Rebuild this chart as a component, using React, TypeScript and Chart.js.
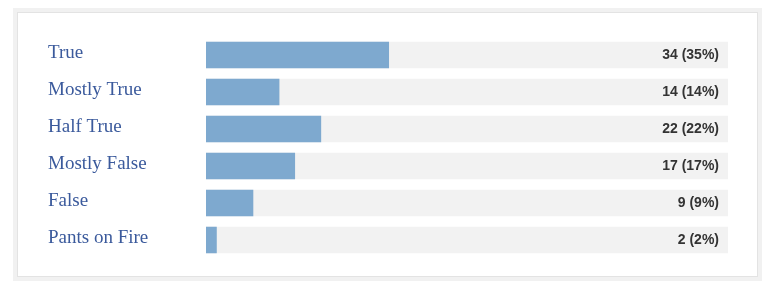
import React, { useEffect, useRef } from "react";
import { Chart, registerables } from "chart.js";

Chart.register(...registerables);

const categories = ["True", "Mostly True", "Half True", "Mostly False", "False", "Pants on Fire"];
const counts = [34, 14, 22, 17, 9, 2];
const percents = [35, 14, 22, 17, 9, 2];
const trackValues = [100, 100, 100, 100, 100, 100];

const valueLabelPlugin = {
  id: "valueLabels",
  afterDatasetsDraw(chart: any) {
    const { ctx, chartArea } = chart;
    const meta = chart.getDatasetMeta(0);
    ctx.save();
    ctx.font = "bold 14px 'Liberation Sans', Arial, sans-serif";
    ctx.fillStyle = "#333333";
    ctx.textAlign = "right";
    ctx.textBaseline = "middle";
    meta.data.forEach((bar: any, i: number) => {
      ctx.fillText(`${counts[i]} (${percents[i]}%)`, chartArea.right - 9, bar.y);
    });
    ctx.restore();
  },
};

export default function App() {
  const ref = useRef<HTMLCanvasElement | null>(null);
  useEffect(() => {
    if (!ref.current) return;
    const chart = new Chart(ref.current, {
      type: "bar",
      data: {
        labels: categories,
        datasets: [
          {
            data: percents,
            backgroundColor: "#7ea9cf",
            borderWidth: 0,
            barThickness: 26,
            grouped: false,
          } as any,
          {
            data: trackValues,
            backgroundColor: "#f2f2f2",
            borderWidth: 0,
            barThickness: 26,
            grouped: false,
          } as any,
        ],
      },
      options: {
        indexAxis: "y",
        animation: false,
        responsive: true,
        maintainAspectRatio: false,
        layout: { padding: { left: 30, right: 29, top: 23.5, bottom: 17.5 } },
        plugins: { legend: { display: false }, tooltip: { enabled: false } },
        scales: {
          x: { display: false, min: 0, max: 100 },
          y: {
            grid: { display: false },
            border: { display: false },
            afterFit(scale: any) {
              scale.width = 158;
            },
            ticks: {
              crossAlign: "far",
              color: "#3b5a9c",
              labelOffset: -2,
              font: { family: "'Liberation Serif', Georgia, serif", size: 19 },
            },
          },
        },
      },
      plugins: [valueLabelPlugin],
    });
    return () => chart.destroy();
  }, []);

  return (
    <div
      style={{
        marginLeft: 5,
        width: 749,
        height: 273,
        boxSizing: "border-box",
        background: "#f1f1f1",
        padding: 4,
      }}
    >
      <div
        style={{
          width: "100%",
          height: "100%",
          boxSizing: "border-box",
          background: "#ffffff",
          border: "1px solid #e3e3e3",
        }}
      >
        <div style={{ position: "relative", width: 739, height: 263 }}>
          <canvas ref={ref} />
        </div>
      </div>
    </div>
  );
}
